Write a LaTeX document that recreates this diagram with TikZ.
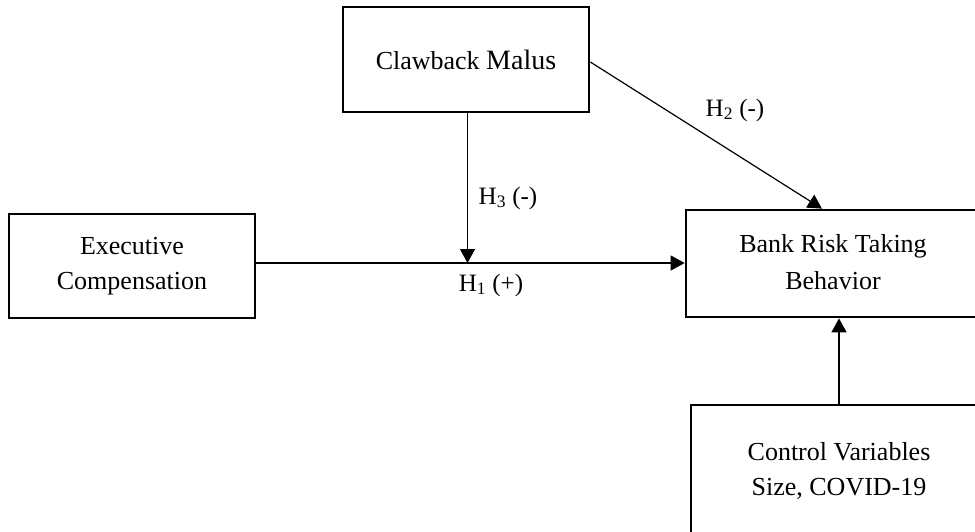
\documentclass[tikz,border=0pt]{standalone}
\usepackage{fontspec}
\setmainfont{Liberation Serif}
\usetikzlibrary{arrows.meta}
\begin{document}
\begin{tikzpicture}[x=1pt,y=-1pt,
  box/.style={draw=black,line width=2.7pt,rectangle,align=center,inner sep=0pt,
    font=\fontsize{26}{35}\selectfont},
  conn/.style={draw=black,line width=1.2pt,-{Triangle[length=14pt,width=15pt]}},
  hlab/.style={inner sep=0pt,font=\fontsize{25}{30}\selectfont}]
\useasboundingbox (0,0) rectangle (975,531);
\clip (0,0) rectangle (975,531);
\node[box,minimum width=246pt,minimum height=105pt] (claw) at (466,59.5)
  {Clawback {\fontsize{28}{35}\selectfont Malus}};
\node[box,minimum width=246pt,minimum height=104pt] (exec) at (132,266)
  {Executive\\Compensation};
\node[box,minimum width=294pt,minimum height=107pt] (bank) at (833,263.5)
  {\raisebox{7pt}{\begin{tabular}{@{}c@{}}Bank Risk Taking\\[2pt]Behavior\end{tabular}}};
\node[box,minimum width=296pt,minimum height=132pt] (ctrl) at (839,471)
  {Control Variables\\Size, COVID-19};
\coordinate (hy) at (0,263);
\coordinate (mid) at (467.5,263);
\draw[line width=1.2pt] (exec.east |- hy) -- (mid);
\draw[conn] (mid) -- (bank.west |- hy);
\draw[conn] (claw.south -| mid) -- (mid);
\draw[conn] ([yshift=-2.5pt]claw.east) -- ([xshift=-11pt]bank.north);
\draw[conn] (ctrl.north) -- (ctrl.north |- bank.south);
\node[hlab] (h2) at (735,110) {H\textsubscript{2} (-)};
\node[hlab] (h3) at (508,198) {H\textsubscript{3} (-)};
\node[hlab] (h1) at (491,285) {H\textsubscript{1} (+)};
\end{tikzpicture}
\end{document}
